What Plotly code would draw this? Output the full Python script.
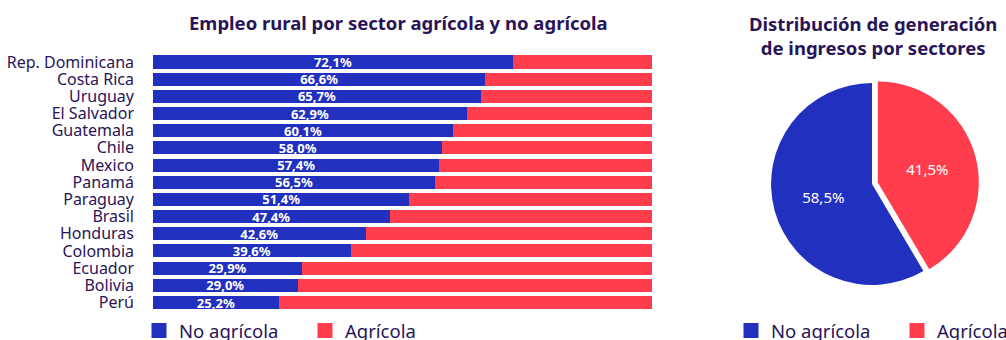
import plotly.graph_objects as go

countries = ["Rep. Dominicana", "Costa Rica", "Uruguay", "El Salvador", "Guatemala",
             "Chile", "Mexico", "Panamá", "Paraguay", "Brasil", "Honduras",
             "Colombia", "Ecuador", "Bolivia", "Perú"]
no_agricola = [72.1, 66.6, 65.7, 62.9, 60.1, 58.0, 57.4, 56.5, 51.4, 47.4, 42.6, 39.6, 29.9, 29.0, 25.2]
agricola = [27.9, 33.4, 34.3, 37.1, 39.9, 42.0, 42.6, 43.5, 48.6, 52.6, 57.4, 60.4, 70.1, 71.0, 74.8]

# pie slices, listed clockwise from 12 o'clock
pie_labels = ["Agrícola", "No agrícola"]
pie_values = [41.5, 58.5]

BLUE = "#2130BF"
RED = "#FF3D4D"
TXT = "#2A1458"
FONT = "Noto Sans"
pie_colors = {"No agrícola": BLUE, "Agrícola": RED}

fig = go.Figure()

fig.add_trace(go.Bar(
    y=countries, x=no_agricola, orientation="h", name="No agrícola",
    marker=dict(color=BLUE, line=dict(width=0)),
    text=no_agricola, texttemplate="<b>%{x:.1f}%</b>", textposition="inside",
    insidetextanchor="middle", textangle=0, constraintext="none",
    textfont=dict(color="white", size=13, family=FONT),
    showlegend=False, hoverinfo="skip"))
fig.add_trace(go.Bar(
    y=countries, x=agricola, orientation="h", name="Agrícola",
    marker=dict(color=RED, line=dict(width=0)),
    showlegend=False, hoverinfo="skip"))

# legend entries (square markers) for the bar chart
for nm, col in [("No agrícola", BLUE), ("Agrícola", RED)]:
    fig.add_trace(go.Scatter(x=[None], y=[None], mode="markers", name=nm,
                             marker=dict(symbol="square", size=15, color=col, line=dict(width=0)),
                             legend="legend", showlegend=True, hoverinfo="skip"))

fig.add_trace(go.Pie(
    labels=pie_labels, values=pie_values, sort=False, direction="clockwise",
    rotation=0, pull=[0.06 if l == "Agrícola" else 0 for l in pie_labels],
    marker=dict(colors=[pie_colors[l] for l in pie_labels], line=dict(width=0)),
    texttemplate="%{value:.1f}%", textposition="inside", insidetextorientation="horizontal",
    textfont=dict(color="white", size=15, family=FONT),
    domain=dict(x=[0.7604, 0.9732], y=[0.1441, 0.7735]),
    showlegend=False, hoverinfo="skip"))

for nm, col in [("No agrícola", BLUE), ("Agrícola", RED)]:
    fig.add_trace(go.Scatter(x=[None], y=[None], mode="markers", name=nm,
                             marker=dict(symbol="square", size=15, color=col, line=dict(width=0)),
                             legend="legend2", showlegend=True, hoverinfo="skip"))

legend_common = dict(orientation="h", font=dict(size=18.5, color=TXT, family=FONT),
                     itemsizing="trace", entrywidth=121, entrywidthmode="pixels",
                     bgcolor="rgba(0,0,0,0)", xanchor="left", yanchor="middle",
                     traceorder="normal", itemclick=False, itemdoubleclick=False)

fig.update_layout(
    width=1006, height=340,
    margin=dict(l=0, r=0, t=0, b=0, autoexpand=False),
    paper_bgcolor="white", plot_bgcolor="white",
    barmode="stack", bargap=0.24,
    separators=",.",
    font=dict(family=FONT, color=TXT),
    xaxis=dict(domain=[153/1006, 652/1006], range=[0, 100], visible=False, fixedrange=True),
    yaxis=dict(domain=[0.085, 0.843], type="category", categoryarray=countries,
               tickmode="array", tickvals=countries, ticktext=countries,
               range=[14.5, -0.5], showgrid=False, zeroline=False, showline=False,
               ticks="", ticklabelstandoff=18,
               tickfont=dict(size=16, color=TXT, family=FONT), fixedrange=True),
    legend=dict(x=139/1006, y=1 - 331/340, **legend_common),
    legend2=dict(x=731/1006, y=1 - 331/340, **legend_common),
    annotations=[
        dict(text="<b>Empleo rural por sector agrícola y no agrícola</b>",
             x=398/1006, y=1 - 23/340, xref="paper", yref="paper",
             xanchor="center", yanchor="middle", showarrow=False,
             font=dict(size=18.5, color=TXT, family=FONT)),
        dict(text="<b>Distribución de generación<br>de ingresos por sectores</b>",
             x=873/1006, y=1 - 36/340, xref="paper", yref="paper",
             xanchor="center", yanchor="middle", showarrow=False,
             font=dict(size=18.5, color=TXT, family=FONT)),
    ],
)

fig.write_html("out.html", config={"displayModeBar": False})
